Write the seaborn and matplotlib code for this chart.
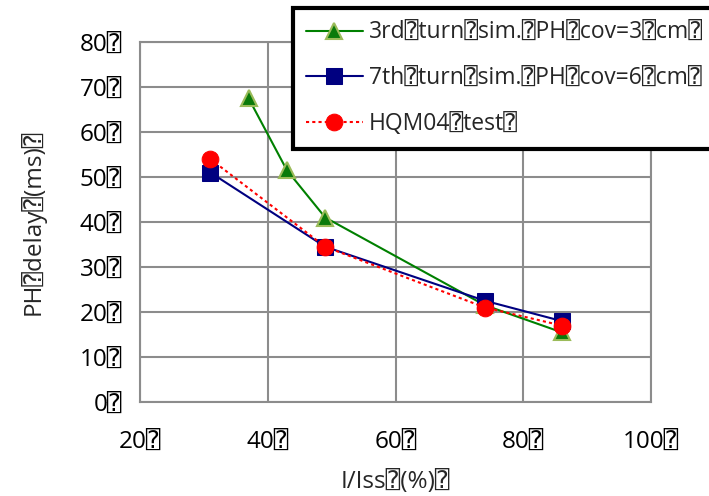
import matplotlib
matplotlib.use("Agg")
import matplotlib.pyplot as plt
import seaborn as sns
import pandas as pd

B = "\u2370"  # placeholder box glyph seen in the original text

x_green = [37, 43, 49, 74, 86]
y_green = [67.5, 51.5, 41, 21.5, 15.5]
x_blue = [31, 49, 74, 86]
y_blue = [51, 34.5, 22.5, 18]
x_red = [31, 49, 74, 86]
y_red = [54, 34.5, 21, 17]

labels = [f"3rd{B}turn{B}sim.{B}PH{B}cov=3{B}cm{B}",
          f"7th{B}turn{B}sim.{B}PH{B}cov=6{B}cm{B}",
          f"HQM04{B}test{B}"]
xticks = [20, 40, 60, 80, 100]
yticks = [0, 10, 20, 30, 40, 50, 60, 70, 80]
xlabel = f"I/Iss{B}(%){B}"
ylabel = f"PH{B}delay{B}(ms){B}"

sns.set_style("white")
plt.rcParams['font.family'] = ['Open Sans', 'DejaVu Sans Mono', 'DejaVu Sans']

fig = plt.figure(figsize=(7.09, 4.96), dpi=100)
ax = fig.add_axes([140/709, 1-402/496, 511/709, 360/496])

df_g = pd.DataFrame({"x": x_green, "y": y_green})
df_b = pd.DataFrame({"x": x_blue, "y": y_blue})
df_r = pd.DataFrame({"x": x_red, "y": y_red})

sns.lineplot(data=df_g, x="x", y="y", ax=ax, color="#008000", lw=1.5,
             marker="^", markersize=11, markerfacecolor="#0a7a0a",
             markeredgecolor="#9bbb59", markeredgewidth=1.5, label=labels[0], zorder=3)
sns.lineplot(data=df_b, x="x", y="y", ax=ax, color="#000080", lw=1.5,
             marker="s", markersize=12, markerfacecolor="#000080",
             markeredgecolor="#000080", label=labels[1], zorder=4)
sns.lineplot(data=df_r, x="x", y="y", ax=ax, color="#ff0000", lw=1.5,
             linestyle=(0, (1.5, 1.5)), marker="o", markersize=12,
             markerfacecolor="#ff0000", markeredgecolor="#ff0000",
             label=labels[2], zorder=5)

fs = 17.5
lfs = 16.5
ax.set_xlim(20, 100)
ax.set_ylim(0, 80)
ax.set_xticks(xticks)
ax.set_yticks(yticks)
ax.set_xticklabels([f"{t}{B}" for t in xticks], fontsize=fs, color="black")
ax.set_yticklabels([f"{t}{B}" for t in yticks], fontsize=fs, color="black")
ax.tick_params(axis="both", direction="out", length=9, width=1.5, color="#808080", pad=4)
ax.tick_params(axis="x", pad=11)
ax.grid(True, color="#8c8c8c", lw=1.5)
for s in ax.spines.values():
    s.set_color("#8c8c8c")
    s.set_linewidth(1.5)
ax.set_xlabel(xlabel, fontsize=fs, labelpad=12)
ax.set_ylabel(ylabel, fontsize=fs, labelpad=24)

leg = ax.legend(loc="upper left", bbox_to_anchor=(293/709, 1-8/496),
                bbox_transform=fig.transFigure, fontsize=lfs, frameon=True,
                fancybox=False, edgecolor="black", framealpha=1,
                borderpad=0.55, labelspacing=0.95, handlelength=2.5, handletextpad=0.25,
                borderaxespad=0)
leg.get_frame().set_linewidth(3)

fig.savefig("out.png", dpi=100)
